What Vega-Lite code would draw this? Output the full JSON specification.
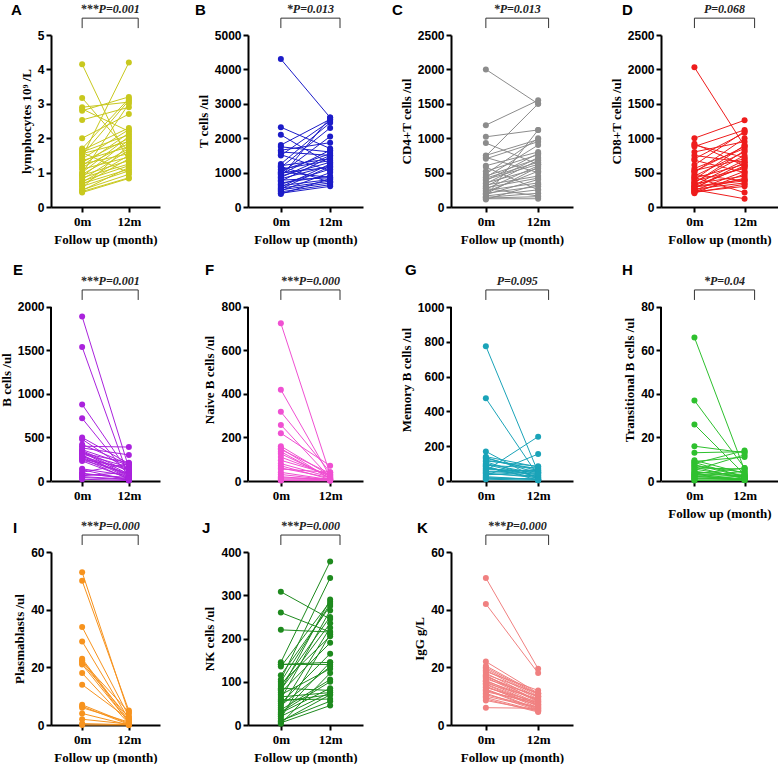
{
"$schema":"https://vega.github.io/schema/vega-lite/v6.json",
"background":"white",
"padding":{"left":0,"top":2,"right":0,"bottom":0},
"config":{
 "view":{"stroke":null},
 "axis":{"grid":false,"domainColor":"black","domainWidth":2,"tickColor":"black","tickWidth":2,"tickSize":5,"labelColor":"black","titleColor":"black","labelFont":"Liberation Sans","labelFontWeight":"bold","labelFontSize":12,"titleFont":"Liberation Serif","titleFontWeight":"bold","titleFontSize":13,"labelPadding":2,"titlePadding":4,"labelOverlap":false},
 "axisX":{"labelFont":"Liberation Serif","labelFontSize":13,"labelPadding":3,"titlePadding":5},
 "point":{"filled":true,"size":36,"opacity":1},
 "text":{"font":"Liberation Serif","fontStyle":"italic","fontWeight":"bold","fontSize":12,"baseline":"alphabetic","color":"#222222"}
},
"datasets":{
"A":[{"m0":4.15,"m12":1.3},{"m0":3.17,"m12":1.6},{"m0":2.9,"m12":3.05},{"m0":2.85,"m12":2.2},{"m0":2.8,"m12":3.2},{"m0":2.53,"m12":2.9},{"m0":2.0,"m12":2.7},{"m0":1.7,"m12":3.15},{"m0":1.65,"m12":2.3},{"m0":1.6,"m12":2.1},{"m0":1.55,"m12":1.9},{"m0":1.5,"m12":3.1},{"m0":1.45,"m12":4.2},{"m0":1.4,"m12":2.25},{"m0":1.35,"m12":1.75},{"m0":1.3,"m12":2.0},{"m0":1.25,"m12":1.55},{"m0":1.2,"m12":2.15},{"m0":1.15,"m12":1.85},{"m0":1.1,"m12":1.45},{"m0":1.0,"m12":2.05},{"m0":0.95,"m12":1.7},{"m0":0.92,"m12":1.35},{"m0":0.88,"m12":1.95},{"m0":0.85,"m12":1.25},{"m0":0.8,"m12":1.65},{"m0":0.75,"m12":1.2},{"m0":0.72,"m12":1.5},{"m0":0.68,"m12":1.1},{"m0":0.65,"m12":1.4},{"m0":0.6,"m12":1.05},{"m0":0.55,"m12":1.8},{"m0":0.5,"m12":0.95},{"m0":0.48,"m12":1.15},{"m0":0.45,"m12":0.85},{"m0":0.42,"m12":0.83},{"m0":1.58,"m12":1.0},{"m0":0.98,"m12":3.0}],
"B":[{"m0":4300,"m12":2600},{"m0":2320,"m12":1700},{"m0":2100,"m12":1250},{"m0":1800,"m12":2550},{"m0":1750,"m12":1600},{"m0":1650,"m12":1870},{"m0":1600,"m12":1500},{"m0":1520,"m12":1050},{"m0":1500,"m12":2500},{"m0":1250,"m12":2450},{"m0":1200,"m12":1400},{"m0":1150,"m12":2300},{"m0":1100,"m12":1350},{"m0":1050,"m12":1550},{"m0":1000,"m12":1150},{"m0":950,"m12":1650},{"m0":900,"m12":1300},{"m0":870,"m12":2600},{"m0":820,"m12":1200},{"m0":780,"m12":850},{"m0":750,"m12":1450},{"m0":700,"m12":900},{"m0":660,"m12":1100},{"m0":620,"m12":800},{"m0":580,"m12":1250},{"m0":550,"m12":750},{"m0":500,"m12":700},{"m0":470,"m12":1000},{"m0":440,"m12":650},{"m0":400,"m12":600},{"m0":380,"m12":820},{"m0":1180,"m12":720},{"m0":1020,"m12":860},{"m0":980,"m12":2050},{"m0":860,"m12":1500},{"m0":530,"m12":1180}],
"C":[{"m0":2000,"m12":1500},{"m0":1190,"m12":1550},{"m0":1020,"m12":1120},{"m0":930,"m12":620},{"m0":750,"m12":980},{"m0":720,"m12":500},{"m0":700,"m12":950},{"m0":600,"m12":800},{"m0":520,"m12":760},{"m0":480,"m12":1000},{"m0":450,"m12":700},{"m0":420,"m12":650},{"m0":400,"m12":620},{"m0":380,"m12":780},{"m0":350,"m12":560},{"m0":320,"m12":450},{"m0":300,"m12":680},{"m0":280,"m12":420},{"m0":260,"m12":600},{"m0":240,"m12":350},{"m0":220,"m12":520},{"m0":200,"m12":300},{"m0":180,"m12":400},{"m0":160,"m12":250},{"m0":150,"m12":1120},{"m0":140,"m12":200},{"m0":130,"m12":150},{"m0":120,"m12":120},{"m0":110,"m12":330},{"m0":740,"m12":1500},{"m0":580,"m12":250},{"m0":430,"m12":900},{"m0":340,"m12":720},{"m0":270,"m12":160},{"m0":190,"m12":580}],
"D":[{"m0":2030,"m12":885},{"m0":1000,"m12":1260},{"m0":920,"m12":600},{"m0":880,"m12":1120},{"m0":800,"m12":950},{"m0":750,"m12":650},{"m0":700,"m12":1080},{"m0":680,"m12":500},{"m0":560,"m12":850},{"m0":530,"m12":700},{"m0":500,"m12":1000},{"m0":470,"m12":380},{"m0":450,"m12":800},{"m0":420,"m12":620},{"m0":400,"m12":900},{"m0":380,"m12":560},{"m0":360,"m12":750},{"m0":340,"m12":450},{"m0":320,"m12":680},{"m0":300,"m12":400},{"m0":280,"m12":600},{"m0":260,"m12":350},{"m0":240,"m12":520},{"m0":220,"m12":300},{"m0":200,"m12":480},{"m0":430,"m12":210},{"m0":250,"m12":120},{"m0":610,"m12":1100},{"m0":520,"m12":880},{"m0":350,"m12":820},{"m0":310,"m12":580},{"m0":290,"m12":380},{"m0":270,"m12":650},{"m0":230,"m12":420},{"m0":210,"m12":330},{"m0":900,"m12":720}],
"E":[{"m0":1890,"m12":150},{"m0":1540,"m12":40},{"m0":880,"m12":100},{"m0":720,"m12":60},{"m0":500,"m12":200},{"m0":480,"m12":120},{"m0":400,"m12":390},{"m0":380,"m12":300},{"m0":360,"m12":180},{"m0":340,"m12":80},{"m0":320,"m12":210},{"m0":300,"m12":50},{"m0":280,"m12":130},{"m0":260,"m12":20},{"m0":250,"m12":150},{"m0":240,"m12":90},{"m0":230,"m12":30},{"m0":140,"m12":60},{"m0":130,"m12":10},{"m0":80,"m12":40},{"m0":60,"m12":100},{"m0":50,"m12":20},{"m0":40,"m12":15},{"m0":270,"m12":70},{"m0":350,"m12":110},{"m0":310,"m12":160},{"m0":420,"m12":190},{"m0":20,"m12":5},{"m0":90,"m12":25},{"m0":100,"m12":200},{"m0":330,"m12":60},{"m0":290,"m12":35}],
"F":[{"m0":725,"m12":30},{"m0":420,"m12":20},{"m0":318,"m12":40},{"m0":258,"m12":15},{"m0":220,"m12":70},{"m0":160,"m12":25},{"m0":150,"m12":10},{"m0":145,"m12":35},{"m0":125,"m12":20},{"m0":95,"m12":30},{"m0":70,"m12":8},{"m0":60,"m12":15},{"m0":55,"m12":40},{"m0":30,"m12":5},{"m0":15,"m12":10},{"m0":5,"m12":3},{"m0":3,"m12":5},{"m0":135,"m12":12},{"m0":110,"m12":25},{"m0":80,"m12":18},{"m0":40,"m12":6},{"m0":20,"m12":2},{"m0":10,"m12":8},{"m0":2,"m12":1}],
"G":[{"m0":775,"m12":50},{"m0":475,"m12":30},{"m0":170,"m12":10},{"m0":140,"m12":80},{"m0":130,"m12":60},{"m0":120,"m12":70},{"m0":110,"m12":20},{"m0":100,"m12":40},{"m0":90,"m12":75},{"m0":80,"m12":15},{"m0":70,"m12":50},{"m0":60,"m12":255},{"m0":50,"m12":65},{"m0":40,"m12":30},{"m0":30,"m12":155},{"m0":20,"m12":10},{"m0":10,"m12":5},{"m0":135,"m12":45},{"m0":115,"m12":85},{"m0":95,"m12":25},{"m0":75,"m12":35},{"m0":65,"m12":60},{"m0":45,"m12":20},{"m0":35,"m12":55},{"m0":25,"m12":8},{"m0":15,"m12":12},{"m0":55,"m12":40},{"m0":85,"m12":5}],
"H":[{"m0":66,"m12":5},{"m0":37,"m12":6},{"m0":26,"m12":3},{"m0":16,"m12":13},{"m0":13,"m12":13.5},{"m0":9,"m12":11},{"m0":8.5,"m12":2},{"m0":8,"m12":14},{"m0":7,"m12":4},{"m0":6.5,"m12":1},{"m0":6,"m12":5.5},{"m0":5,"m12":12},{"m0":4.5,"m12":1.5},{"m0":4,"m12":3},{"m0":3.5,"m12":0.5},{"m0":3,"m12":2.5},{"m0":2.5,"m12":1},{"m0":2,"m12":4.5},{"m0":1.5,"m12":0.5},{"m0":1,"m12":1.2},{"m0":0.5,"m12":0.3},{"m0":0.2,"m12":0.8},{"m0":7.5,"m12":2},{"m0":5.5,"m12":1.8},{"m0":3.2,"m12":6},{"m0":2.2,"m12":0.8},{"m0":1.2,"m12":2.2},{"m0":9.5,"m12":3.5}],
"I":[{"m0":53,"m12":4},{"m0":50,"m12":5},{"m0":34,"m12":3},{"m0":29,"m12":2},{"m0":23,"m12":1.5},{"m0":22,"m12":4.5},{"m0":21,"m12":1},{"m0":18,"m12":0.5},{"m0":14,"m12":2},{"m0":7,"m12":0.5},{"m0":6,"m12":1},{"m0":4,"m12":0},{"m0":2,"m12":0.3},{"m0":0,"m12":0},{"m0":21.5,"m12":2.5},{"m0":22.5,"m12":0.8},{"m0":6.5,"m12":0.2},{"m0":0.5,"m12":0.1}],
"J":[{"m0":308,"m12":245},{"m0":260,"m12":215},{"m0":220,"m12":215},{"m0":145,"m12":378},{"m0":140,"m12":140},{"m0":135,"m12":285},{"m0":115,"m12":275},{"m0":105,"m12":340},{"m0":90,"m12":250},{"m0":85,"m12":80},{"m0":80,"m12":290},{"m0":75,"m12":190},{"m0":70,"m12":130},{"m0":60,"m12":265},{"m0":58,"m12":60},{"m0":55,"m12":70},{"m0":50,"m12":165},{"m0":40,"m12":225},{"m0":35,"m12":105},{"m0":30,"m12":100},{"m0":25,"m12":145},{"m0":20,"m12":75},{"m0":10,"m12":55},{"m0":5,"m12":45},{"m0":3,"m12":120},{"m0":140,"m12":145},{"m0":100,"m12":280},{"m0":95,"m12":205},{"m0":82,"m12":235},{"m0":65,"m12":75},{"m0":45,"m12":135},{"m0":28,"m12":85},{"m0":15,"m12":210},{"m0":8,"m12":70}],
"K":[{"m0":51,"m12":19.5},{"m0":42,"m12":18},{"m0":22,"m12":11},{"m0":20,"m12":10.5},{"m0":19.5,"m12":10},{"m0":19,"m12":9.5},{"m0":18,"m12":9},{"m0":17.5,"m12":11},{"m0":17,"m12":8.5},{"m0":16.5,"m12":8},{"m0":16,"m12":10},{"m0":15.5,"m12":7.5},{"m0":15,"m12":7},{"m0":14.5,"m12":9},{"m0":14,"m12":6.5},{"m0":13.5,"m12":6},{"m0":13,"m12":8},{"m0":12.5,"m12":5.5},{"m0":12,"m12":7},{"m0":11,"m12":5},{"m0":10,"m12":6},{"m0":9,"m12":4.5},{"m0":8.5,"m12":5},{"m0":6,"m12":5.8},{"m0":18.5,"m12":12},{"m0":16.8,"m12":9.8},{"m0":15.2,"m12":8.8},{"m0":14.2,"m12":7.2},{"m0":13.2,"m12":6.8},{"m0":12.2,"m12":5.2},{"m0":11.5,"m12":7.8},{"m0":10.5,"m12":6.2},{"m0":20.5,"m12":10.8},{"m0":17.2,"m12":8.2},{"m0":9.5,"m12":4.8}]
},
"columns":4,
"spacing":{"row":71,"column":88},
"bounds":"flush",
"concat":[
{"width":109,"height":172,"data":{"name":"A"},"layer":[
 {"mark":{"type":"rule","color":"#C8C81E","strokeWidth":1},"encoding":{"x":{"datum":0,"type":"quantitative","scale":{"domain":[-8,20]},"axis":{"values":[0,12],"labelExpr":"datum.value + 'm'","title":"Follow up (month)"}},"x2":{"datum":12},"y":{"field":"m0","type":"quantitative","scale":{"domain":[0,5],"nice":false},"axis":{"values":[0,1,2,3,4,5],"format":"d","title":"lymphocytes 10⁹ /L"}},"y2":{"field":"m12"}}},
 {"mark":{"type":"point","color":"#C8C81E"},"encoding":{"x":{"datum":0,"type":"quantitative"},"y":{"field":"m0","type":"quantitative","axis":{"values":[0,1,2,3,4,5],"format":"d","title":"lymphocytes 10⁹ /L"}}}},
 {"mark":{"type":"point","color":"#C8C81E"},"encoding":{"x":{"datum":12,"type":"quantitative"},"y":{"field":"m12","type":"quantitative","axis":{"values":[0,1,2,3,4,5],"format":"d","title":"lymphocytes 10⁹ /L"}}}},
 {"data":{"values":[{}]},"mark":{"type":"rule","color":"#333333","strokeWidth":1},"encoding":{"x":{"datum":0},"x2":{"datum":14.4},"y":{"datum":5.49,"axis":{"values":[0,1,2,3,4,5],"format":"d","title":"lymphocytes 10⁹ /L"}}}},
 {"data":{"values":[{}]},"mark":{"type":"rule","color":"#333333","strokeWidth":1},"encoding":{"x":{"datum":0},"y":{"datum":5.49,"axis":{"values":[0,1,2,3,4,5],"format":"d","title":"lymphocytes 10⁹ /L"}},"y2":{"datum":5.2}}},
 {"data":{"values":[{}]},"mark":{"type":"rule","color":"#333333","strokeWidth":1},"encoding":{"x":{"datum":14.4},"y":{"datum":5.49,"axis":{"values":[0,1,2,3,4,5],"format":"d","title":"lymphocytes 10⁹ /L"}},"y2":{"datum":5.2}}},
 {"data":{"values":[{}]},"mark":{"type":"text"},"encoding":{"x":{"datum":7.2},"y":{"datum":5.635,"axis":{"values":[0,1,2,3,4,5],"format":"d","title":"lymphocytes 10⁹ /L"}},"text":{"value":"***P=0.001"}}},
 {"data":{"values":[{}]},"mark":{"type":"text","font":"Liberation Sans","fontStyle":"normal","fontSize":15,"align":"left","color":"black"},"encoding":{"x":{"datum":-18.28},"y":{"datum":5.581,"axis":{"values":[0,1,2,3,4,5],"format":"d","title":"lymphocytes 10⁹ /L"}},"text":{"value":"A"}}}
]},
{"width":115,"height":172,"data":{"name":"B"},"layer":[
 {"mark":{"type":"rule","color":"#1C1CC8","strokeWidth":1},"encoding":{"x":{"datum":0,"type":"quantitative","scale":{"domain":[-8,20]},"axis":{"values":[0,12],"labelExpr":"datum.value + 'm'","title":"Follow up (month)"}},"x2":{"datum":12},"y":{"field":"m0","type":"quantitative","scale":{"domain":[0,5000],"nice":false},"axis":{"values":[0,1000,2000,3000,4000,5000],"format":"d","title":"T cells /ul"}},"y2":{"field":"m12"}}},
 {"mark":{"type":"point","color":"#1C1CC8"},"encoding":{"x":{"datum":0,"type":"quantitative"},"y":{"field":"m0","type":"quantitative","axis":{"values":[0,1000,2000,3000,4000,5000],"format":"d","title":"T cells /ul"}}}},
 {"mark":{"type":"point","color":"#1C1CC8"},"encoding":{"x":{"datum":12,"type":"quantitative"},"y":{"field":"m12","type":"quantitative","axis":{"values":[0,1000,2000,3000,4000,5000],"format":"d","title":"T cells /ul"}}}},
 {"data":{"values":[{}]},"mark":{"type":"rule","color":"#333333","strokeWidth":1},"encoding":{"x":{"datum":0},"x2":{"datum":14.4},"y":{"datum":5490,"axis":{"values":[0,1000,2000,3000,4000,5000],"format":"d","title":"T cells /ul"}}}},
 {"data":{"values":[{}]},"mark":{"type":"rule","color":"#333333","strokeWidth":1},"encoding":{"x":{"datum":0},"y":{"datum":5490,"axis":{"values":[0,1000,2000,3000,4000,5000],"format":"d","title":"T cells /ul"}},"y2":{"datum":5202}}},
 {"data":{"values":[{}]},"mark":{"type":"rule","color":"#333333","strokeWidth":1},"encoding":{"x":{"datum":14.4},"y":{"datum":5490,"axis":{"values":[0,1000,2000,3000,4000,5000],"format":"d","title":"T cells /ul"}},"y2":{"datum":5202}}},
 {"data":{"values":[{}]},"mark":{"type":"text"},"encoding":{"x":{"datum":7.2},"y":{"datum":5635,"axis":{"values":[0,1000,2000,3000,4000,5000],"format":"d","title":"T cells /ul"}},"text":{"value":"*P=0.013"}}},
 {"data":{"values":[{}]},"mark":{"type":"text","font":"Liberation Sans","fontStyle":"normal","fontSize":15,"align":"left","color":"black"},"encoding":{"x":{"datum":-20.9},"y":{"datum":5581,"axis":{"values":[0,1000,2000,3000,4000,5000],"format":"d","title":"T cells /ul"}},"text":{"value":"B"}}}
]},
{"width":122,"height":172,"data":{"name":"C"},"layer":[
 {"mark":{"type":"rule","color":"#8C8C8C","strokeWidth":1},"encoding":{"x":{"datum":0,"type":"quantitative","scale":{"domain":[-8,20]},"axis":{"values":[0,12],"labelExpr":"datum.value + 'm'","title":"Follow up (month)"}},"x2":{"datum":12},"y":{"field":"m0","type":"quantitative","scale":{"domain":[0,2500],"nice":false},"axis":{"values":[0,500,1000,1500,2000,2500],"format":"d","title":"CD4+T cells /ul"}},"y2":{"field":"m12"}}},
 {"mark":{"type":"point","color":"#8C8C8C"},"encoding":{"x":{"datum":0,"type":"quantitative"},"y":{"field":"m0","type":"quantitative","axis":{"values":[0,500,1000,1500,2000,2500],"format":"d","title":"CD4+T cells /ul"}}}},
 {"mark":{"type":"point","color":"#8C8C8C"},"encoding":{"x":{"datum":12,"type":"quantitative"},"y":{"field":"m12","type":"quantitative","axis":{"values":[0,500,1000,1500,2000,2500],"format":"d","title":"CD4+T cells /ul"}}}},
 {"data":{"values":[{}]},"mark":{"type":"rule","color":"#333333","strokeWidth":1},"encoding":{"x":{"datum":0},"x2":{"datum":14.4},"y":{"datum":2745,"axis":{"values":[0,500,1000,1500,2000,2500],"format":"d","title":"CD4+T cells /ul"}}}},
 {"data":{"values":[{}]},"mark":{"type":"rule","color":"#333333","strokeWidth":1},"encoding":{"x":{"datum":0},"y":{"datum":2745,"axis":{"values":[0,500,1000,1500,2000,2500],"format":"d","title":"CD4+T cells /ul"}},"y2":{"datum":2601}}},
 {"data":{"values":[{}]},"mark":{"type":"rule","color":"#333333","strokeWidth":1},"encoding":{"x":{"datum":14.4},"y":{"datum":2745,"axis":{"values":[0,500,1000,1500,2000,2500],"format":"d","title":"CD4+T cells /ul"}},"y2":{"datum":2601}}},
 {"data":{"values":[{}]},"mark":{"type":"text"},"encoding":{"x":{"datum":7.2},"y":{"datum":2817,"axis":{"values":[0,500,1000,1500,2000,2500],"format":"d","title":"CD4+T cells /ul"}},"text":{"value":"*P=0.013"}}},
 {"data":{"values":[{}]},"mark":{"type":"text","font":"Liberation Sans","fontStyle":"normal","fontSize":15,"align":"left","color":"black"},"encoding":{"x":{"datum":-21.54},"y":{"datum":2790.7,"axis":{"values":[0,500,1000,1500,2000,2500],"format":"d","title":"CD4+T cells /ul"}},"text":{"value":"C"}}}
]},
{"width":117,"height":172,"data":{"name":"D"},"layer":[
 {"mark":{"type":"rule","color":"#EE1C1C","strokeWidth":1},"encoding":{"x":{"datum":0,"type":"quantitative","scale":{"domain":[-8,20]},"axis":{"values":[0,12],"labelExpr":"datum.value + 'm'","title":"Follow up (month)"}},"x2":{"datum":12},"y":{"field":"m0","type":"quantitative","scale":{"domain":[0,2500],"nice":false},"axis":{"values":[0,500,1000,1500,2000,2500],"format":"d","title":"CD8+T cells /ul"}},"y2":{"field":"m12"}}},
 {"mark":{"type":"point","color":"#EE1C1C"},"encoding":{"x":{"datum":0,"type":"quantitative"},"y":{"field":"m0","type":"quantitative","axis":{"values":[0,500,1000,1500,2000,2500],"format":"d","title":"CD8+T cells /ul"}}}},
 {"mark":{"type":"point","color":"#EE1C1C"},"encoding":{"x":{"datum":12,"type":"quantitative"},"y":{"field":"m12","type":"quantitative","axis":{"values":[0,500,1000,1500,2000,2500],"format":"d","title":"CD8+T cells /ul"}}}},
 {"data":{"values":[{}]},"mark":{"type":"rule","color":"#333333","strokeWidth":1},"encoding":{"x":{"datum":0},"x2":{"datum":14.4},"y":{"datum":2745,"axis":{"values":[0,500,1000,1500,2000,2500],"format":"d","title":"CD8+T cells /ul"}}}},
 {"data":{"values":[{}]},"mark":{"type":"rule","color":"#333333","strokeWidth":1},"encoding":{"x":{"datum":0},"y":{"datum":2745,"axis":{"values":[0,500,1000,1500,2000,2500],"format":"d","title":"CD8+T cells /ul"}},"y2":{"datum":2601}}},
 {"data":{"values":[{}]},"mark":{"type":"rule","color":"#333333","strokeWidth":1},"encoding":{"x":{"datum":14.4},"y":{"datum":2745,"axis":{"values":[0,500,1000,1500,2000,2500],"format":"d","title":"CD8+T cells /ul"}},"y2":{"datum":2601}}},
 {"data":{"values":[{}]},"mark":{"type":"text"},"encoding":{"x":{"datum":7.2},"y":{"datum":2817,"axis":{"values":[0,500,1000,1500,2000,2500],"format":"d","title":"CD8+T cells /ul"}},"text":{"value":"P=0.068"}}},
 {"data":{"values":[{}]},"mark":{"type":"text","font":"Liberation Sans","fontStyle":"normal","fontSize":15,"align":"left","color":"black"},"encoding":{"x":{"datum":-17.31},"y":{"datum":2790.7,"axis":{"values":[0,500,1000,1500,2000,2500],"format":"d","title":"CD8+T cells /ul"}},"text":{"value":"D"}}}
]},
{"width":109,"height":203,"data":{"name":"E"},"layer":[
 {"mark":{"type":"rule","color":"#AA22DD","strokeWidth":1},"encoding":{"x":{"datum":0,"type":"quantitative","scale":{"domain":[-8,20]},"axis":{"values":[0,12],"labelExpr":"datum.value + 'm'","title":null}},"x2":{"datum":12},"y":{"field":"m0","type":"quantitative","scale":{"domain":[0,2333.33],"nice":false},"axis":{"values":[0,500,1000,1500,2000],"format":"d","title":"B cells /ul","domain":false}},"y2":{"field":"m12"}}},
 {"mark":{"type":"point","color":"#AA22DD"},"encoding":{"x":{"datum":0,"type":"quantitative"},"y":{"field":"m0","type":"quantitative","axis":{"values":[0,500,1000,1500,2000],"format":"d","title":"B cells /ul","domain":false}}}},
 {"mark":{"type":"point","color":"#AA22DD"},"encoding":{"x":{"datum":12,"type":"quantitative"},"y":{"field":"m12","type":"quantitative","axis":{"values":[0,500,1000,1500,2000],"format":"d","title":"B cells /ul","domain":false}}}},
 {"data":{"values":[{}]},"mark":{"type":"rule","color":"black","strokeWidth":2},"encoding":{"x":{"datum":-8},"y":{"datum":0,"axis":{"values":[0,500,1000,1500,2000],"format":"d","title":"B cells /ul","domain":false}},"y2":{"datum":2000}}},
 {"data":{"values":[{}]},"mark":{"type":"rule","color":"#333333","strokeWidth":1},"encoding":{"x":{"datum":0},"x2":{"datum":14.4},"y":{"datum":2196,"axis":{"values":[0,500,1000,1500,2000],"format":"d","title":"B cells /ul","domain":false}}}},
 {"data":{"values":[{}]},"mark":{"type":"rule","color":"#333333","strokeWidth":1},"encoding":{"x":{"datum":0},"y":{"datum":2196,"axis":{"values":[0,500,1000,1500,2000],"format":"d","title":"B cells /ul","domain":false}},"y2":{"datum":2081}}},
 {"data":{"values":[{}]},"mark":{"type":"rule","color":"#333333","strokeWidth":1},"encoding":{"x":{"datum":14.4},"y":{"datum":2196,"axis":{"values":[0,500,1000,1500,2000],"format":"d","title":"B cells /ul","domain":false}},"y2":{"datum":2081}}},
 {"data":{"values":[{}]},"mark":{"type":"text"},"encoding":{"x":{"datum":7.2},"y":{"datum":2254,"axis":{"values":[0,500,1000,1500,2000],"format":"d","title":"B cells /ul","domain":false}},"text":{"value":"***P=0.001"}}},
 {"data":{"values":[{}]},"mark":{"type":"text","font":"Liberation Sans","fontStyle":"normal","fontSize":15,"align":"left","color":"black"},"encoding":{"x":{"datum":-17.76},"y":{"datum":2367.8,"axis":{"values":[0,500,1000,1500,2000],"format":"d","title":"B cells /ul","domain":false}},"text":{"value":"E"}}}
]},
{"width":115,"height":203,"data":{"name":"F"},"layer":[
 {"mark":{"type":"rule","color":"#F050D2","strokeWidth":1},"encoding":{"x":{"datum":0,"type":"quantitative","scale":{"domain":[-8,20]},"axis":{"values":[0,12],"labelExpr":"datum.value + 'm'","title":null}},"x2":{"datum":12},"y":{"field":"m0","type":"quantitative","scale":{"domain":[0,933.33],"nice":false},"axis":{"values":[0,200,400,600,800],"format":"d","title":"Naive B cells /ul","domain":false}},"y2":{"field":"m12"}}},
 {"mark":{"type":"point","color":"#F050D2"},"encoding":{"x":{"datum":0,"type":"quantitative"},"y":{"field":"m0","type":"quantitative","axis":{"values":[0,200,400,600,800],"format":"d","title":"Naive B cells /ul","domain":false}}}},
 {"mark":{"type":"point","color":"#F050D2"},"encoding":{"x":{"datum":12,"type":"quantitative"},"y":{"field":"m12","type":"quantitative","axis":{"values":[0,200,400,600,800],"format":"d","title":"Naive B cells /ul","domain":false}}}},
 {"data":{"values":[{}]},"mark":{"type":"rule","color":"black","strokeWidth":2},"encoding":{"x":{"datum":-8},"y":{"datum":0,"axis":{"values":[0,200,400,600,800],"format":"d","title":"Naive B cells /ul","domain":false}},"y2":{"datum":800}}},
 {"data":{"values":[{}]},"mark":{"type":"rule","color":"#333333","strokeWidth":1},"encoding":{"x":{"datum":0},"x2":{"datum":14.4},"y":{"datum":878.4,"axis":{"values":[0,200,400,600,800],"format":"d","title":"Naive B cells /ul","domain":false}}}},
 {"data":{"values":[{}]},"mark":{"type":"rule","color":"#333333","strokeWidth":1},"encoding":{"x":{"datum":0},"y":{"datum":878.4,"axis":{"values":[0,200,400,600,800],"format":"d","title":"Naive B cells /ul","domain":false}},"y2":{"datum":832.4}}},
 {"data":{"values":[{}]},"mark":{"type":"rule","color":"#333333","strokeWidth":1},"encoding":{"x":{"datum":14.4},"y":{"datum":878.4,"axis":{"values":[0,200,400,600,800],"format":"d","title":"Naive B cells /ul","domain":false}},"y2":{"datum":832.4}}},
 {"data":{"values":[{}]},"mark":{"type":"text"},"encoding":{"x":{"datum":7.2},"y":{"datum":901.6,"axis":{"values":[0,200,400,600,800],"format":"d","title":"Naive B cells /ul","domain":false}},"text":{"value":"***P=0.000"}}},
 {"data":{"values":[{}]},"mark":{"type":"text","font":"Liberation Sans","fontStyle":"normal","fontSize":15,"align":"left","color":"black"},"encoding":{"x":{"datum":-18.47},"y":{"datum":947.1,"axis":{"values":[0,200,400,600,800],"format":"d","title":"Naive B cells /ul","domain":false}},"text":{"value":"F"}}}
]},
{"width":122,"height":203,"data":{"name":"G"},"layer":[
 {"mark":{"type":"rule","color":"#1AA3B8","strokeWidth":1},"encoding":{"x":{"datum":0,"type":"quantitative","scale":{"domain":[-8,20]},"axis":{"values":[0,12],"labelExpr":"datum.value + 'm'","title":null}},"x2":{"datum":12},"y":{"field":"m0","type":"quantitative","scale":{"domain":[0,1166.67],"nice":false},"axis":{"values":[0,200,400,600,800,1000],"format":"d","title":"Memory B cells /ul","domain":false}},"y2":{"field":"m12"}}},
 {"mark":{"type":"point","color":"#1AA3B8"},"encoding":{"x":{"datum":0,"type":"quantitative"},"y":{"field":"m0","type":"quantitative","axis":{"values":[0,200,400,600,800,1000],"format":"d","title":"Memory B cells /ul","domain":false}}}},
 {"mark":{"type":"point","color":"#1AA3B8"},"encoding":{"x":{"datum":12,"type":"quantitative"},"y":{"field":"m12","type":"quantitative","axis":{"values":[0,200,400,600,800,1000],"format":"d","title":"Memory B cells /ul","domain":false}}}},
 {"data":{"values":[{}]},"mark":{"type":"rule","color":"black","strokeWidth":2},"encoding":{"x":{"datum":-8},"y":{"datum":0,"axis":{"values":[0,200,400,600,800,1000],"format":"d","title":"Memory B cells /ul","domain":false}},"y2":{"datum":1000}}},
 {"data":{"values":[{}]},"mark":{"type":"rule","color":"#333333","strokeWidth":1},"encoding":{"x":{"datum":0},"x2":{"datum":14.4},"y":{"datum":1098,"axis":{"values":[0,200,400,600,800,1000],"format":"d","title":"Memory B cells /ul","domain":false}}}},
 {"data":{"values":[{}]},"mark":{"type":"rule","color":"#333333","strokeWidth":1},"encoding":{"x":{"datum":0},"y":{"datum":1098,"axis":{"values":[0,200,400,600,800,1000],"format":"d","title":"Memory B cells /ul","domain":false}},"y2":{"datum":1040.5}}},
 {"data":{"values":[{}]},"mark":{"type":"rule","color":"#333333","strokeWidth":1},"encoding":{"x":{"datum":14.4},"y":{"datum":1098,"axis":{"values":[0,200,400,600,800,1000],"format":"d","title":"Memory B cells /ul","domain":false}},"y2":{"datum":1040.5}}},
 {"data":{"values":[{}]},"mark":{"type":"text"},"encoding":{"x":{"datum":7.2},"y":{"datum":1127,"axis":{"values":[0,200,400,600,800,1000],"format":"d","title":"Memory B cells /ul","domain":false}},"text":{"value":"P=0.095"}}},
 {"data":{"values":[{}]},"mark":{"type":"text","font":"Liberation Sans","fontStyle":"normal","fontSize":15,"align":"left","color":"black"},"encoding":{"x":{"datum":-18.56},"y":{"datum":1183.9,"axis":{"values":[0,200,400,600,800,1000],"format":"d","title":"Memory B cells /ul","domain":false}},"text":{"value":"G"}}}
]},
{"width":117,"height":203,"data":{"name":"H"},"layer":[
 {"mark":{"type":"rule","color":"#2EC02E","strokeWidth":1},"encoding":{"x":{"datum":0,"type":"quantitative","scale":{"domain":[-8,20]},"axis":{"values":[0,12],"labelExpr":"datum.value + 'm'","title":"Follow up (month)"}},"x2":{"datum":12},"y":{"field":"m0","type":"quantitative","scale":{"domain":[0,93.33],"nice":false},"axis":{"values":[0,20,40,60,80],"format":"d","title":"Transitional B cells /ul","domain":false}},"y2":{"field":"m12"}}},
 {"mark":{"type":"point","color":"#2EC02E"},"encoding":{"x":{"datum":0,"type":"quantitative"},"y":{"field":"m0","type":"quantitative","axis":{"values":[0,20,40,60,80],"format":"d","title":"Transitional B cells /ul","domain":false}}}},
 {"mark":{"type":"point","color":"#2EC02E"},"encoding":{"x":{"datum":12,"type":"quantitative"},"y":{"field":"m12","type":"quantitative","axis":{"values":[0,20,40,60,80],"format":"d","title":"Transitional B cells /ul","domain":false}}}},
 {"data":{"values":[{}]},"mark":{"type":"rule","color":"black","strokeWidth":2},"encoding":{"x":{"datum":-8},"y":{"datum":0,"axis":{"values":[0,20,40,60,80],"format":"d","title":"Transitional B cells /ul","domain":false}},"y2":{"datum":80}}},
 {"data":{"values":[{}]},"mark":{"type":"rule","color":"#333333","strokeWidth":1},"encoding":{"x":{"datum":0},"x2":{"datum":14.4},"y":{"datum":87.84,"axis":{"values":[0,20,40,60,80],"format":"d","title":"Transitional B cells /ul","domain":false}}}},
 {"data":{"values":[{}]},"mark":{"type":"rule","color":"#333333","strokeWidth":1},"encoding":{"x":{"datum":0},"y":{"datum":87.84,"axis":{"values":[0,20,40,60,80],"format":"d","title":"Transitional B cells /ul","domain":false}},"y2":{"datum":83.24}}},
 {"data":{"values":[{}]},"mark":{"type":"rule","color":"#333333","strokeWidth":1},"encoding":{"x":{"datum":14.4},"y":{"datum":87.84,"axis":{"values":[0,20,40,60,80],"format":"d","title":"Transitional B cells /ul","domain":false}},"y2":{"datum":83.24}}},
 {"data":{"values":[{}]},"mark":{"type":"text"},"encoding":{"x":{"datum":7.2},"y":{"datum":90.16,"axis":{"values":[0,20,40,60,80],"format":"d","title":"Transitional B cells /ul","domain":false}},"text":{"value":"*P=0.04"}}},
 {"data":{"values":[{}]},"mark":{"type":"text","font":"Liberation Sans","fontStyle":"normal","fontSize":15,"align":"left","color":"black"},"encoding":{"x":{"datum":-17.31},"y":{"datum":94.71,"axis":{"values":[0,20,40,60,80],"format":"d","title":"Transitional B cells /ul","domain":false}},"text":{"value":"H"}}}
]},
{"width":109,"height":173,"data":{"name":"I"},"layer":[
 {"mark":{"type":"rule","color":"#F7931E","strokeWidth":1},"encoding":{"x":{"datum":0,"type":"quantitative","scale":{"domain":[-8,20]},"axis":{"values":[0,12],"labelExpr":"datum.value + 'm'","title":"Follow up (month)"}},"x2":{"datum":12},"y":{"field":"m0","type":"quantitative","scale":{"domain":[0,60],"nice":false},"axis":{"values":[0,20,40,60],"format":"d","title":"Plasmablasts /ul"}},"y2":{"field":"m12"}}},
 {"mark":{"type":"point","color":"#F7931E"},"encoding":{"x":{"datum":0,"type":"quantitative"},"y":{"field":"m0","type":"quantitative","axis":{"values":[0,20,40,60],"format":"d","title":"Plasmablasts /ul"}}}},
 {"mark":{"type":"point","color":"#F7931E"},"encoding":{"x":{"datum":12,"type":"quantitative"},"y":{"field":"m12","type":"quantitative","axis":{"values":[0,20,40,60],"format":"d","title":"Plasmablasts /ul"}}}},
 {"data":{"values":[{}]},"mark":{"type":"rule","color":"#333333","strokeWidth":1},"encoding":{"x":{"datum":0},"x2":{"datum":14.4},"y":{"datum":65.88,"axis":{"values":[0,20,40,60],"format":"d","title":"Plasmablasts /ul"}}}},
 {"data":{"values":[{}]},"mark":{"type":"rule","color":"#333333","strokeWidth":1},"encoding":{"x":{"datum":0},"y":{"datum":65.88,"axis":{"values":[0,20,40,60],"format":"d","title":"Plasmablasts /ul"}},"y2":{"datum":62.43}}},
 {"data":{"values":[{}]},"mark":{"type":"rule","color":"#333333","strokeWidth":1},"encoding":{"x":{"datum":14.4},"y":{"datum":65.88,"axis":{"values":[0,20,40,60],"format":"d","title":"Plasmablasts /ul"}},"y2":{"datum":62.43}}},
 {"data":{"values":[{}]},"mark":{"type":"text"},"encoding":{"x":{"datum":7.2},"y":{"datum":67.62,"axis":{"values":[0,20,40,60],"format":"d","title":"Plasmablasts /ul"}},"text":{"value":"***P=0.000"}}},
 {"data":{"values":[{}]},"mark":{"type":"text","font":"Liberation Sans","fontStyle":"normal","fontSize":15,"align":"left","color":"black"},"encoding":{"x":{"datum":-17.76},"y":{"datum":66.59,"axis":{"values":[0,20,40,60],"format":"d","title":"Plasmablasts /ul"}},"text":{"value":"I"}}}
]},
{"width":115,"height":173,"data":{"name":"J"},"layer":[
 {"mark":{"type":"rule","color":"#1E8A1E","strokeWidth":1},"encoding":{"x":{"datum":0,"type":"quantitative","scale":{"domain":[-8,20]},"axis":{"values":[0,12],"labelExpr":"datum.value + 'm'","title":"Follow up (month)"}},"x2":{"datum":12},"y":{"field":"m0","type":"quantitative","scale":{"domain":[0,400],"nice":false},"axis":{"values":[0,100,200,300,400],"format":"d","title":"NK cells /ul"}},"y2":{"field":"m12"}}},
 {"mark":{"type":"point","color":"#1E8A1E"},"encoding":{"x":{"datum":0,"type":"quantitative"},"y":{"field":"m0","type":"quantitative","axis":{"values":[0,100,200,300,400],"format":"d","title":"NK cells /ul"}}}},
 {"mark":{"type":"point","color":"#1E8A1E"},"encoding":{"x":{"datum":12,"type":"quantitative"},"y":{"field":"m12","type":"quantitative","axis":{"values":[0,100,200,300,400],"format":"d","title":"NK cells /ul"}}}},
 {"data":{"values":[{}]},"mark":{"type":"rule","color":"#333333","strokeWidth":1},"encoding":{"x":{"datum":0},"x2":{"datum":14.4},"y":{"datum":439.2,"axis":{"values":[0,100,200,300,400],"format":"d","title":"NK cells /ul"}}}},
 {"data":{"values":[{}]},"mark":{"type":"rule","color":"#333333","strokeWidth":1},"encoding":{"x":{"datum":0},"y":{"datum":439.2,"axis":{"values":[0,100,200,300,400],"format":"d","title":"NK cells /ul"}},"y2":{"datum":416.2}}},
 {"data":{"values":[{}]},"mark":{"type":"rule","color":"#333333","strokeWidth":1},"encoding":{"x":{"datum":14.4},"y":{"datum":439.2,"axis":{"values":[0,100,200,300,400],"format":"d","title":"NK cells /ul"}},"y2":{"datum":416.2}}},
 {"data":{"values":[{}]},"mark":{"type":"text"},"encoding":{"x":{"datum":7.2},"y":{"datum":450.8,"axis":{"values":[0,100,200,300,400],"format":"d","title":"NK cells /ul"}},"text":{"value":"***P=0.000"}}},
 {"data":{"values":[{}]},"mark":{"type":"text","font":"Liberation Sans","fontStyle":"normal","fontSize":15,"align":"left","color":"black"},"encoding":{"x":{"datum":-19.2},"y":{"datum":443.9,"axis":{"values":[0,100,200,300,400],"format":"d","title":"NK cells /ul"}},"text":{"value":"J"}}}
]},
{"width":122,"height":173,"data":{"name":"K"},"layer":[
 {"mark":{"type":"rule","color":"#F08080","strokeWidth":1},"encoding":{"x":{"datum":0,"type":"quantitative","scale":{"domain":[-8,20]},"axis":{"values":[0,12],"labelExpr":"datum.value + 'm'","title":"Follow up (month)"}},"x2":{"datum":12},"y":{"field":"m0","type":"quantitative","scale":{"domain":[0,60],"nice":false},"axis":{"values":[0,20,40,60],"format":"d","title":"IgG g/L"}},"y2":{"field":"m12"}}},
 {"mark":{"type":"point","color":"#F08080"},"encoding":{"x":{"datum":0,"type":"quantitative"},"y":{"field":"m0","type":"quantitative","axis":{"values":[0,20,40,60],"format":"d","title":"IgG g/L"}}}},
 {"mark":{"type":"point","color":"#F08080"},"encoding":{"x":{"datum":12,"type":"quantitative"},"y":{"field":"m12","type":"quantitative","axis":{"values":[0,20,40,60],"format":"d","title":"IgG g/L"}}}},
 {"data":{"values":[{}]},"mark":{"type":"rule","color":"#333333","strokeWidth":1},"encoding":{"x":{"datum":0},"x2":{"datum":14.4},"y":{"datum":65.88,"axis":{"values":[0,20,40,60],"format":"d","title":"IgG g/L"}}}},
 {"data":{"values":[{}]},"mark":{"type":"rule","color":"#333333","strokeWidth":1},"encoding":{"x":{"datum":0},"y":{"datum":65.88,"axis":{"values":[0,20,40,60],"format":"d","title":"IgG g/L"}},"y2":{"datum":62.43}}},
 {"data":{"values":[{}]},"mark":{"type":"rule","color":"#333333","strokeWidth":1},"encoding":{"x":{"datum":14.4},"y":{"datum":65.88,"axis":{"values":[0,20,40,60],"format":"d","title":"IgG g/L"}},"y2":{"datum":62.43}}},
 {"data":{"values":[{}]},"mark":{"type":"text"},"encoding":{"x":{"datum":7.2},"y":{"datum":67.62,"axis":{"values":[0,20,40,60],"format":"d","title":"IgG g/L"}},"text":{"value":"***P=0.000"}}},
 {"data":{"values":[{}]},"mark":{"type":"text","font":"Liberation Sans","fontStyle":"normal","fontSize":15,"align":"left","color":"black"},"encoding":{"x":{"datum":-15.8},"y":{"datum":66.59,"axis":{"values":[0,20,40,60],"format":"d","title":"IgG g/L"}},"text":{"value":"K"}}}
]}
]
}
